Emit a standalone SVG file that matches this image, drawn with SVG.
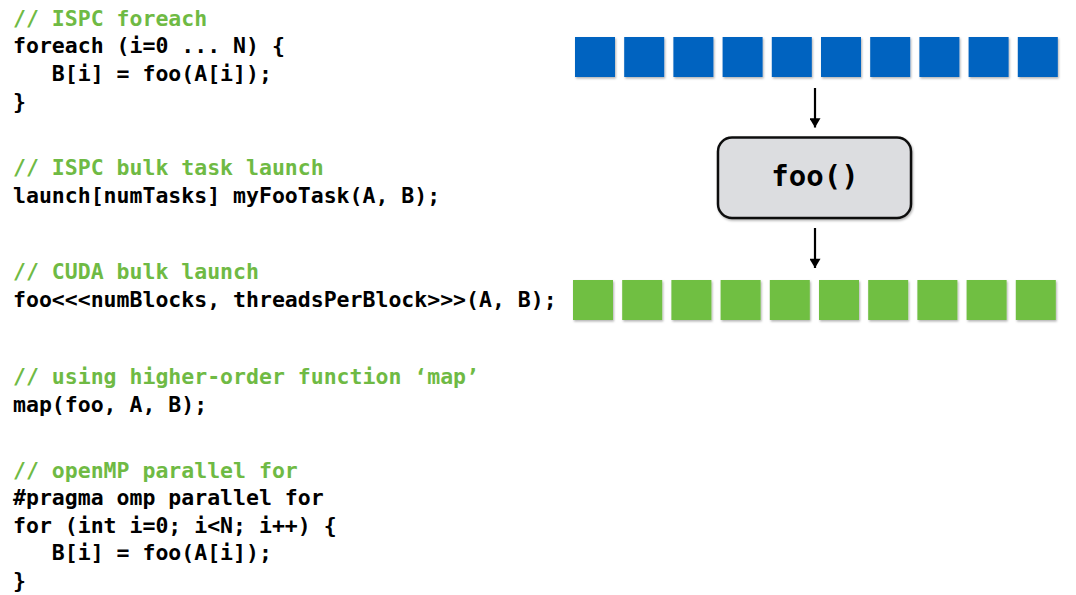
<svg xmlns="http://www.w3.org/2000/svg" width="1076" height="595" viewBox="0 0 1076 595">
<style>
.code{font-family:"DejaVu Sans Mono","Liberation Mono",monospace;font-size:21.5px;font-weight:bold;fill:#000;white-space:pre}
.cm{fill:#6fba44}
.blue{fill:#0563c0}
.green{fill:#70bf43}
.arrow{stroke:#000;stroke-width:2.2;fill:none}
</style>
<defs>
<marker id="ah" viewBox="0 0 10 12" refX="10" refY="6" markerWidth="12" markerHeight="11" markerUnits="userSpaceOnUse" orient="auto">
<path d="M0,0 L10,6 L0,12 z" fill="#000"/>
</marker>
<filter id="ds" x="-10%" y="-10%" width="130%" height="130%">
<feDropShadow dx="1" dy="1.5" stdDeviation="1" flood-color="#000" flood-opacity="0.3"/>
</filter>
</defs>
<rect width="1076" height="595" fill="#fff"/>
<g id="code">
<text class="code cm" x="13" y="25.5">// ISPC foreach</text>
<text class="code" x="13" y="53">foreach (i=0 ... N) {</text>
<text class="code" x="13" y="81" xml:space="preserve">   B[i] = foo(A[i]);</text>
<text class="code" x="13" y="109">}</text>
<text class="code cm" x="13" y="175">// ISPC bulk task launch</text>
<text class="code" x="13" y="202.5">launch[numTasks] myFooTask(A, B);</text>
<text class="code cm" x="13" y="278.5">// CUDA bulk launch</text>
<text class="code" x="13" y="306.5">foo&lt;&lt;&lt;numBlocks, threadsPerBlock&gt;&gt;&gt;(A, B);</text>
<text class="code cm" x="13" y="383.5">// using higher-order function ‘map’</text>
<text class="code" x="13" y="411.5">map(foo, A, B);</text>
<text class="code cm" x="13" y="477.5">// openMP parallel for</text>
<text class="code" x="13" y="505">#pragma omp parallel for</text>
<text class="code" x="13" y="532.5">for (int i=0; i&lt;N; i++) {</text>
<text class="code" x="13" y="560" xml:space="preserve">   B[i] = foo(A[i]);</text>
<text class="code" x="13" y="588">}</text>
</g>
<g id="input" filter="url(#ds)">
<rect class="blue" x="575" y="37" width="40" height="40"/>
<rect class="blue" x="624.2" y="37" width="40" height="40"/>
<rect class="blue" x="673.4" y="37" width="40" height="40"/>
<rect class="blue" x="722.6" y="37" width="40" height="40"/>
<rect class="blue" x="771.8" y="37" width="40" height="40"/>
<rect class="blue" x="821" y="37" width="40" height="40"/>
<rect class="blue" x="870.2" y="37" width="40" height="40"/>
<rect class="blue" x="919.4" y="37" width="40" height="40"/>
<rect class="blue" x="968.6" y="37" width="40" height="40"/>
<rect class="blue" x="1017.8" y="37" width="40" height="40"/>
</g>
<g id="foo">
<rect x="718" y="137.5" width="193" height="80.5" rx="14" ry="14" fill="#dcdde0" stroke="#111" stroke-width="2.5" filter="url(#ds)"/>
<text x="815" y="186" text-anchor="middle" font-family="DejaVu Sans Mono, monospace" font-size="29" font-weight="bold" fill="#000">foo()</text>
</g>
<g id="output" filter="url(#ds)">
<rect class="green" x="573" y="280" width="40" height="40"/>
<rect class="green" x="622.2" y="280" width="40" height="40"/>
<rect class="green" x="671.4" y="280" width="40" height="40"/>
<rect class="green" x="720.6" y="280" width="40" height="40"/>
<rect class="green" x="769.8" y="280" width="40" height="40"/>
<rect class="green" x="819" y="280" width="40" height="40"/>
<rect class="green" x="868.2" y="280" width="40" height="40"/>
<rect class="green" x="917.4" y="280" width="40" height="40"/>
<rect class="green" x="966.6" y="280" width="40" height="40"/>
<rect class="green" x="1015.8" y="280" width="40" height="40"/>
</g>
<g id="connectors">
<line class="arrow" x1="815" y1="88" x2="815" y2="127.5" marker-end="url(#ah)"/>
<line class="arrow" x1="815" y1="228" x2="815" y2="268" marker-end="url(#ah)"/>
</g>
</svg>
